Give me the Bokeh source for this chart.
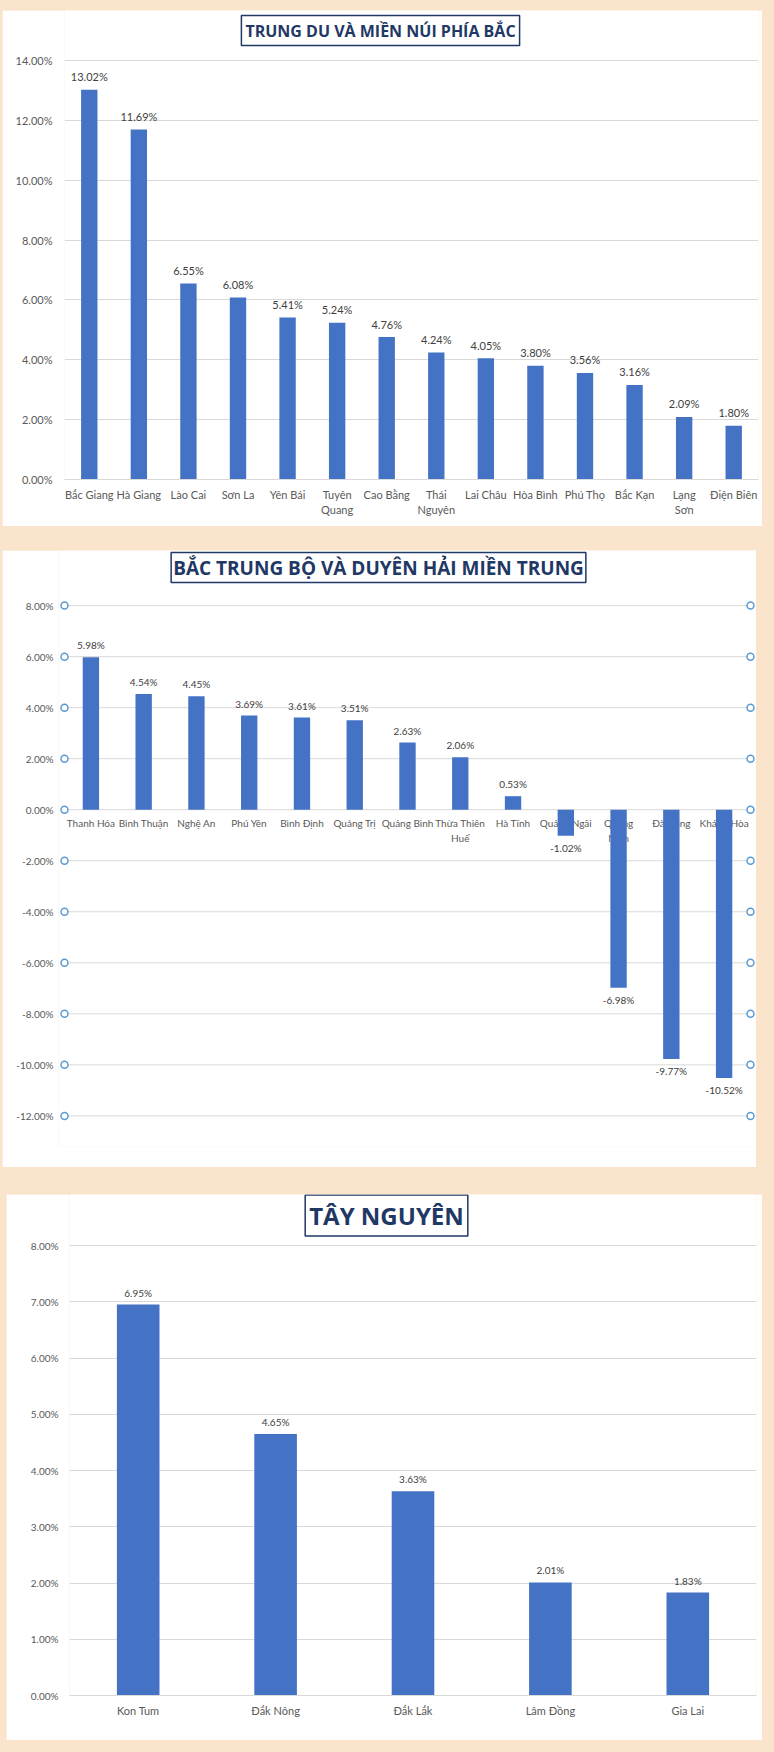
from bokeh.plotting import figure
from bokeh.models import (ColumnDataSource, Range1d, FactorRange, FixedTicker,
                          PrintfTickFormatter, Label, Spacer)
from bokeh.layouts import column, row
from bokeh.embed import file_html
from bokeh.resources import INLINE
from bokeh.core.properties import value

# ---------------- data ----------------
north_title = "TRUNG DU VÀ MIỀN NÚI PHÍA BẮC"
north_provinces = ["Bắc Giang", "Hà Giang", "Lào Cai", "Sơn La", "Yên Bái", "Tuyên\nQuang",
                   "Cao Bằng", "Thái\nNguyên", "Lai Châu", "Hòa Bình", "Phú Thọ", "Bắc Kạn",
                   "Lạng\nSơn", "Điện Biên"]
north_values = [13.02, 11.69, 6.55, 6.08, 5.41, 5.24, 4.76, 4.24, 4.05, 3.80, 3.56, 3.16, 2.09, 1.80]
north_ticks = [0, 2, 4, 6, 8, 10, 12, 14]

central_title = "BẮC TRUNG BỘ VÀ DUYÊN HẢI MIỀN TRUNG"
central_provinces = ["Thanh Hóa", "Bình Thuận", "Nghệ An", "Phú Yên", "Bình Định", "Quảng Trị",
                     "Quảng Bình", "Thừa Thiên\nHuế", "Hà Tĩnh", "Quảng Ngãi", "Quảng\nNam",
                     "Đà Nẵng", "Khánh Hòa"]
central_values = [5.98, 4.54, 4.45, 3.69, 3.61, 3.51, 2.63, 2.06, 0.53, -1.02, -6.98, -9.77, -10.52]
central_ticks = [-12, -10, -8, -6, -4, -2, 0, 2, 4, 6, 8]

highland_title = "TÂY NGUYÊN"
highland_provinces = ["Kon Tum", "Đắk Nông", "Đắk Lắk", "Lâm Đồng", "Gia Lai"]
highland_values = [6.95, 4.65, 3.63, 2.01, 1.83]
highland_ticks = [0, 1, 2, 3, 4, 5, 6, 7, 8]

# ---------------- style ----------------
BLUE = "#4472C4"
GRID = "#d9d9d9"
TICK = "#595959"
LBL = "#404040"
NAVY = "#1f3864"
BG = "#fae4cc"
FONT = "Lato"
TFONT = "Open Sans"


def pct(v):
    return f"{v:.2f}%"


def style(p, ticks, tick_size, standoff):
    p.background_fill_color = "white"
    p.border_fill_color = "white"
    p.outline_line_color = None
    p.xgrid.grid_line_color = None
    p.ygrid.grid_line_color = GRID
    p.ygrid.grid_line_width = 1
    p.yaxis.ticker = FixedTicker(ticks=ticks)
    p.yaxis.formatter = PrintfTickFormatter(format="%.2f%%")
    p.yaxis.axis_line_color = None
    p.yaxis.major_tick_line_color = None
    p.yaxis.minor_tick_line_color = None
    p.yaxis.major_tick_out = 0
    p.yaxis.major_tick_in = 0
    p.yaxis.minor_tick_out = 0
    p.yaxis.major_label_standoff = standoff
    p.yaxis.major_label_text_font = FONT
    p.yaxis.major_label_text_font_size = tick_size
    p.yaxis.major_label_text_color = TICK


def style_x(p, standoff):
    p.xaxis.axis_line_color = GRID
    p.xaxis.major_tick_line_color = None
    p.xaxis.minor_tick_line_color = None
    p.xaxis.major_tick_out = 0
    p.xaxis.major_tick_in = 0
    p.xaxis.minor_tick_out = 0
    p.xaxis.major_label_standoff = standoff
    p.xaxis.major_label_text_font = FONT
    p.xaxis.major_label_text_font_size = "11px"
    p.xaxis.major_label_text_color = TICK


def title_label(text, sx, sy, size, pad):
    return Label(x=sx, y=sy, x_units="screen", y_units="screen", text=text,
                 text_align="center", text_baseline="middle",
                 text_font=TFONT, text_font_style="bold", text_font_size=size,
                 text_color=NAVY, background_fill_color="white",
                 border_line_color=NAVY, border_line_width=1.5, padding=pad)


# ---------------- panel 1 ----------------
src1 = ColumnDataSource(dict(cat=north_provinces, val=north_values,
                             lbl=[pct(v) for v in north_values]))
p1 = figure(width=760, height=516, title=None,
            x_range=FactorRange(factors=north_provinces, range_padding=0),
            y_range=Range1d(0, 15.67), output_backend="svg", toolbar_location=None,
            min_border_left=62, min_border_right=4, min_border_top=0, min_border_bottom=47)
style(p1, north_ticks, "11px", 12)
style_x(p1, 8)
p1.vbar(x="cat", top="val", width=0.33, source=src1, fill_color=BLUE, line_color=None)
p1.text(x="cat", y="val", text="lbl", source=src1, text_align="center", text_baseline="middle",
        y_offset=-13, text_font=value(FONT), text_font_size="11px", text_color=LBL)
p1.add_layout(title_label(north_title, 316, 449, "16px", 4))

# ---------------- panel 2 ----------------
n2 = len(central_provinces)
xpos = [i + 0.5 for i in range(n2)]
src2 = ColumnDataSource(dict(x=xpos, cat=central_provinces, val=central_values,
                             lbl=[pct(v) for v in central_values],
                             off=[-12 if v >= 0 else 12 for v in central_values]))
p2 = figure(width=754, height=617, title=None, x_axis_location=None,
            x_range=Range1d(-0.114, n2 + 0.114), y_range=Range1d(-13.2, 10.16),
            output_backend="svg", toolbar_location=None,
            min_border_left=56, min_border_right=0, min_border_top=0, min_border_bottom=21)
style(p2, central_ticks, "10px", 5)
p2.ygrid.grid_line_color = None
p2.segment(x0=[0] * len(central_ticks), x1=[n2] * len(central_ticks),
           y0=central_ticks, y1=central_ticks, line_color=GRID, line_width=1)
p2.text(x="x", y=0, text="cat", source=src2, text_align="center", text_baseline="top",
        y_offset=7, text_font=value(FONT), text_font_size="10px", text_color=TICK,
        text_line_height=1.25)
p2.vbar(x="x", top="val", bottom=0, width=0.31, source=src2, fill_color=BLUE, line_color=None)
p2.text(x="x", y="val", text="lbl", source=src2, text_align="center", text_baseline="middle",
        y_offset="off", text_font=value(FONT), text_font_size="10px", text_color=LBL)
p2.scatter(x=[0] * len(central_ticks) + [n2] * len(central_ticks),
           y=central_ticks + central_ticks, size=7, marker="circle",
           fill_color="white", line_color="#5b9bd5", line_width=1.5)
p2.add_layout(title_label(central_title, 320, 579, "19px", 2))

# ---------------- panel 3 ----------------
src3 = ColumnDataSource(dict(cat=highland_provinces, val=highland_values,
                             lbl=[pct(v) for v in highland_values]))
p3 = figure(width=756, height=546, title=None,
            x_range=FactorRange(factors=highland_provinces, range_padding=0),
            y_range=Range1d(0, 8.907), output_backend="svg", toolbar_location=None,
            min_border_left=63, min_border_right=6, min_border_top=0, min_border_bottom=45)
style(p3, highland_ticks, "10px", 11)
style_x(p3, 8)
p3.vbar(x="cat", top="val", width=0.31, source=src3, fill_color=BLUE, line_color=None)
p3.text(x="cat", y="val", text="lbl", source=src3, text_align="center", text_baseline="middle",
        y_offset=-12, text_font=value(FONT), text_font_size="10px", text_color=LBL)
p3.add_layout(title_label(highland_title, 317, 480, "24px", 4))

layout = column(Spacer(width=10, height=10),
                row(Spacer(width=2, height=10), p1, spacing=0),
                Spacer(width=10, height=24),
                row(Spacer(width=2, height=10), p2, spacing=0),
                Spacer(width=10, height=27),
                row(Spacer(width=6, height=10), p3, spacing=0),
                spacing=0)

html = file_html(layout, INLINE, title="Tăng trưởng")
html = html.replace("</head>", f"<style>html,body{{background:{BG};}}</style></head>", 1)
open("out.html", "w").write(html)
